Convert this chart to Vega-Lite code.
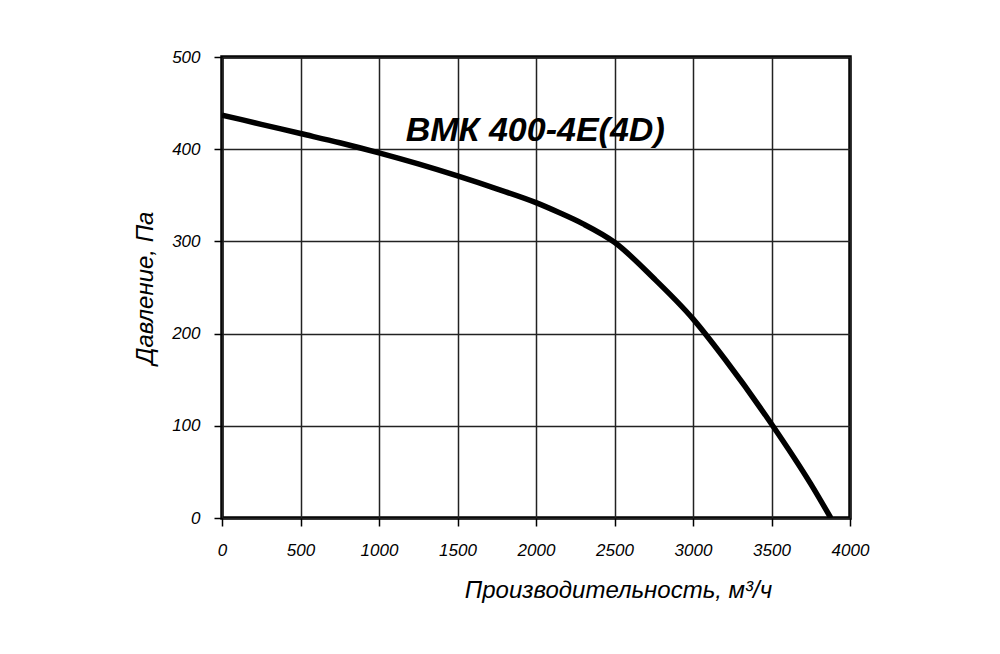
{
  "$schema": "https://vega.github.io/schema/vega-lite/v6.json",
  "width": 628,
  "height": 461,
  "autosize": "none",
  "padding": {"left": 222, "top": 57, "right": 150, "bottom": 136},
  "background": "white",
  "layer": [
    {
      "data": {
        "values": [
          {"q": 0, "p": 437},
          {"q": 250, "p": 427},
          {"q": 500, "p": 417},
          {"q": 750, "p": 407},
          {"q": 1000, "p": 396},
          {"q": 1250, "p": 384},
          {"q": 1500, "p": 371},
          {"q": 1750, "p": 357},
          {"q": 2000, "p": 342},
          {"q": 2150, "p": 331},
          {"q": 2300, "p": 319},
          {"q": 2500, "p": 299},
          {"q": 2750, "p": 260},
          {"q": 3000, "p": 216},
          {"q": 3200, "p": 173},
          {"q": 3500, "p": 102},
          {"q": 3750, "p": 37},
          {"q": 3878, "p": 0}
        ]
      },
      "mark": {"type": "line", "color": "black", "strokeWidth": 5.5, "interpolate": "monotone", "clip": true},
      "encoding": {
        "x": {
          "field": "q",
          "type": "quantitative",
          "scale": {"domain": [0, 4000], "nice": false},
          "axis": {
            "title": "Производительность, м³/ч",
            "format": "d",
            "values": [0, 500, 1000, 1500, 2000, 2500, 3000, 3500, 4000],
            "grid": true,
            "gridColor": "#222222",
            "gridWidth": 1.5,
            "gridOpacity": 1,
            "domain": false,
            "tickColor": "black",
            "tickSize": 8,
            "tickWidth": 1.5,
            "labelPadding": 16,
            "labelFont": "Liberation Sans",
            "labelFontStyle": "italic",
            "labelFontSize": 17,
            "labelColor": "black",
            "labelFlush": false,
            "titleFont": "Liberation Sans",
            "titleFontStyle": "italic",
            "titleFontWeight": "normal",
            "titleFontSize": 24,
            "titleColor": "black",
            "titlePadding": 20,
            "titleX": 396,
            "titleAlign": "center"
          }
        },
        "y": {
          "field": "p",
          "type": "quantitative",
          "scale": {"domain": [0, 500], "nice": false},
          "axis": {
            "title": "Давление, Па",
            "format": "d",
            "values": [0, 100, 200, 300, 400, 500],
            "grid": true,
            "gridColor": "#222222",
            "gridWidth": 1.5,
            "gridOpacity": 1,
            "domain": false,
            "tickColor": "black",
            "tickSize": 8,
            "tickWidth": 1.5,
            "labelPadding": 14,
            "labelFont": "Liberation Sans",
            "labelFontStyle": "italic",
            "labelFontSize": 17,
            "labelColor": "black",
            "labelFlush": false,
            "titleFont": "Liberation Sans",
            "titleFontStyle": "italic",
            "titleFontWeight": "normal",
            "titleFontSize": 24,
            "titleColor": "black",
            "titlePadding": 14
          }
        }
      }
    },
    {
      "data": {"values": [{"q": 1995, "p": 420, "label": "ВМК 400-4E(4D)"}]},
      "mark": {
        "type": "text",
        "font": "Liberation Sans",
        "fontStyle": "italic",
        "fontWeight": "bold",
        "fontSize": 34,
        "color": "black",
        "align": "center",
        "baseline": "middle"
      },
      "encoding": {
        "x": {"field": "q", "type": "quantitative"},
        "y": {"field": "p", "type": "quantitative"},
        "text": {"field": "label"}
      }
    }
  ],
  "config": {
    "view": {"stroke": "black", "strokeWidth": 3.5}
  }
}
